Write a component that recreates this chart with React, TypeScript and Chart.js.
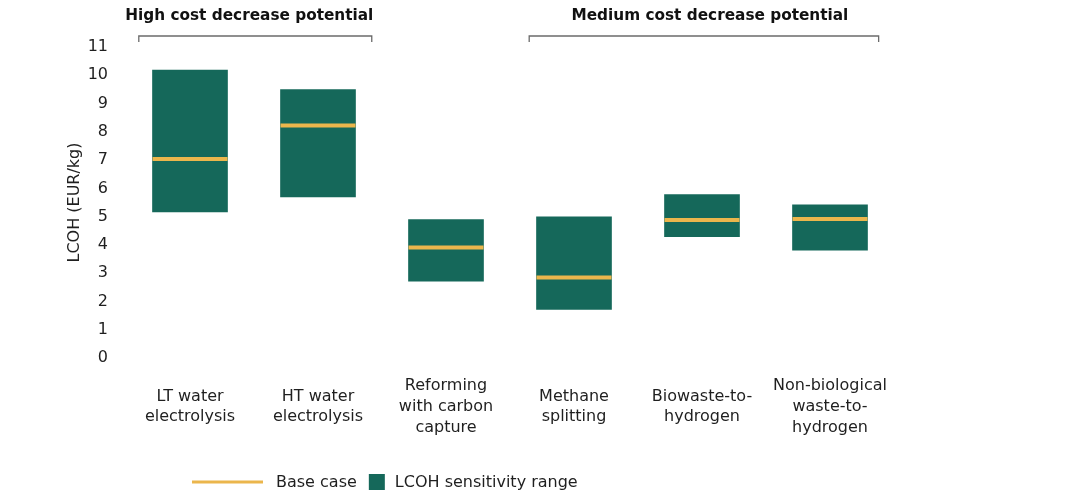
import React, { useEffect, useRef } from "react";
import { Chart, registerables } from "chart.js";

Chart.register(...registerables);

const categories: string[][] = [
  ["LT water", "electrolysis"],
  ["HT water", "electrolysis"],
  ["Reforming", "with carbon", "capture"],
  ["Methane", "splitting"],
  ["Biowaste-to-", "hydrogen"],
  ["Non-biological", "waste-to-", "hydrogen"],
];
const rangeLow: number[] = [5.17, 5.7, 2.72, 1.72, 4.29, 3.81];
const rangeHigh: number[] = [10.18, 9.49, 4.9, 4.99, 5.78, 5.42];
const baseCase: number[] = [7.04, 8.22, 3.91, 2.85, 4.88, 4.92];
const yTicks: number[] = [0, 1, 2, 3, 4, 5, 6, 7, 8, 9, 10, 11];
const groupLabels: string[] = ["High cost decrease potential", "Medium cost decrease potential"];
const groupFrom: number[] = [0, 3];
const groupTo: number[] = [1, 5];
const legendLabels: string[] = ["Base case", "LCOH sensitivity range"];
const yTitle = "LCOH (EUR/kg)";

const GREEN = "#15685A";
const YELLOW = "#EBB64C";
const FONT = "'DejaVu Sans', sans-serif";
const TEXT = "#1f1f1f";

const overlayPlugin = {
  id: "overlay",
  afterDraw(chart: any) {
    const ctx = chart.ctx;
    const xs = chart.scales.x;
    const step = xs.getPixelForValue(1) - xs.getPixelForValue(0);
    ctx.save();
    // group brackets and titles
    const padL = [0.4, 0.35];
    const padR = [0.42, 0.38];
    groupLabels.forEach((label, i) => {
      const x0 = xs.getPixelForValue(groupFrom[i]) - padL[i] * step;
      const x1 = xs.getPixelForValue(groupTo[i]) + padR[i] * step;
      const y = 36;
      ctx.strokeStyle = "#6b6b6b";
      ctx.lineWidth = 1.3;
      ctx.beginPath();
      ctx.moveTo(x0, y + 6);
      ctx.lineTo(x0, y);
      ctx.lineTo(x1, y);
      ctx.lineTo(x1, y + 6);
      ctx.stroke();
      ctx.fillStyle = "#111";
      ctx.font = "bold 15.3px " + FONT;
      ctx.textAlign = "center";
      ctx.textBaseline = "middle";
      ctx.fillText(label, (x0 + x1) / 2 + (i === 0 ? -6 : 6), 16);
    });
    // legend
    const ly = 482;
    let x = 192;
    ctx.strokeStyle = YELLOW;
    ctx.lineWidth = 3;
    ctx.beginPath();
    ctx.moveTo(x, ly);
    ctx.lineTo(x + 71, ly);
    ctx.stroke();
    x += 71 + 13;
    ctx.font = "16px " + FONT;
    ctx.fillStyle = TEXT;
    ctx.textAlign = "left";
    ctx.textBaseline = "middle";
    ctx.fillText(legendLabels[0], x, ly + 1);
    x += ctx.measureText(legendLabels[0]).width + 12;
    ctx.fillStyle = GREEN;
    ctx.fillRect(x, ly - 8, 16, 16);
    x += 16 + 10;
    ctx.fillStyle = TEXT;
    ctx.fillText(legendLabels[1], x, ly + 1);
    ctx.restore();
  },
};

export default function App() {
  const ref = useRef<HTMLCanvasElement | null>(null);
  useEffect(() => {
    if (!ref.current) return;
    const chart = new Chart(ref.current, {
      type: "bar",
      data: {
        labels: categories,
        datasets: [
          {
            type: "line",
            label: legendLabels[0],
            data: baseCase,
            showLine: false,
            pointStyle: "line",
            pointRadius: 37.5,
            pointHoverRadius: 37.5,
            pointBorderWidth: 4,
            pointHoverBorderWidth: 4,
            borderColor: YELLOW,
            backgroundColor: YELLOW,
            order: 0,
          } as any,
          {
            type: "bar",
            label: legendLabels[1],
            data: rangeLow.map((lo, i) => [lo, rangeHigh[i]]),
            backgroundColor: GREEN,
            borderWidth: 0,
            barThickness: 75,
            order: 1,
          } as any,
        ],
      },
      options: {
        responsive: false,
        animation: false,
        devicePixelRatio: 1,
        layout: { padding: { left: 0, right: 172, top: 47, bottom: 0 } },
        plugins: {
          legend: { display: false },
          tooltip: { enabled: false },
          title: { display: false },
        },
        scales: {
          x: {
            grid: { display: false, drawTicks: false },
            border: { display: false },
            ticks: {
              color: TEXT,
              font: { family: FONT, size: 16, lineHeight: 1.3 },
              padding: 28,
              maxRotation: 0,
              autoSkip: false,
              crossAlign: "center",
            },
            afterFit: (s: any) => {
              s.height = 141;
            },
          } as any,
          y: {
            min: 0,
            max: 11,
            grid: { display: false, drawTicks: false },
            border: { display: false },
            afterBuildTicks: (s: any) => {
              s.ticks = yTicks.map((v) => ({ value: v }));
            },
            ticks: {
              color: TEXT,
              font: { family: FONT, size: 16 },
              padding: 18,
            },
            title: {
              display: true,
              text: yTitle,
              color: TEXT,
              font: { family: FONT, size: 16 },
              padding: { top: 65, bottom: 0 },
            },
            afterFit: (s: any) => {
              s.width = 126;
            },
          } as any,
        },
      },
      plugins: [overlayPlugin],
    });
    return () => chart.destroy();
  }, []);
  return (
    <div style={{ position: "fixed", left: 0, top: 0, width: 1066, height: 499, background: "#fff" }}>
      <canvas ref={ref} width={1066} height={499} />
    </div>
  );
}
